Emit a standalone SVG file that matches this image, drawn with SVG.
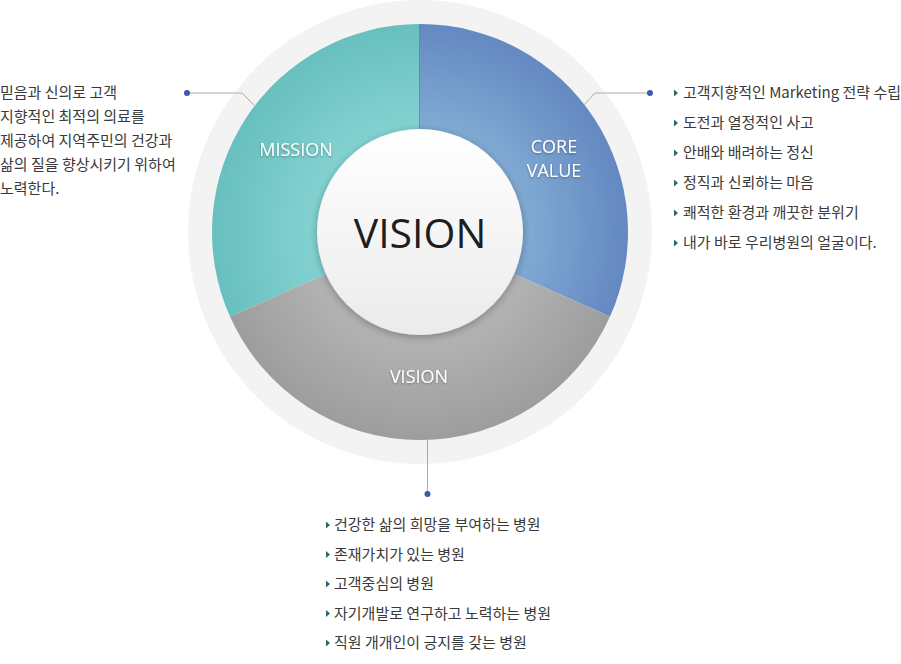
<svg xmlns="http://www.w3.org/2000/svg" width="901" height="664" viewBox="0 0 901 664">
<style>
.t{font-family:"Noto Sans CJK KR","Noto Sans",sans-serif;font-size:15px;fill:#3a3a3a}
.seg{font-family:"Open Sans","Noto Sans",sans-serif;font-size:18px;fill:#fff;text-anchor:middle;filter:url(#ts)}
.conn{fill:none;stroke:#aaaaaa;stroke-width:1}
.dot{fill:#3a5ca6}
.bul{fill:#2b6b6e}
</style>
<defs>
<radialGradient id="gM" cx="420" cy="232" r="208" gradientUnits="userSpaceOnUse">
<stop offset="0.3" stop-color="#8fd9d9"/><stop offset="1" stop-color="#68c0be"/>
</radialGradient>
<radialGradient id="gC" cx="420" cy="232" r="208" gradientUnits="userSpaceOnUse">
<stop offset="0.3" stop-color="#8cb9db"/><stop offset="1" stop-color="#6488c1"/>
</radialGradient>
<radialGradient id="gV" cx="420" cy="232" r="208" gradientUnits="userSpaceOnUse">
<stop offset="0.3" stop-color="#bdbdbd"/><stop offset="1" stop-color="#9d9d9d"/>
</radialGradient>
<linearGradient id="gW" x1="0" y1="0" x2="0" y2="1">
<stop offset="0" stop-color="#ffffff"/><stop offset="1" stop-color="#ebebeb"/>
</linearGradient>
<filter id="sh" x="-20%" y="-20%" width="140%" height="140%">
<feDropShadow dx="0" dy="2" stdDeviation="4" flood-color="#000" flood-opacity="0.3"/>
</filter>
<filter id="ts" x="-10%" y="-20%" width="120%" height="150%">
<feDropShadow dx="0" dy="1" stdDeviation="1" flood-color="#000" flood-opacity="0.35"/>
</filter>
</defs>

<circle cx="420" cy="232" r="232" fill="#f3f3f3"/>

<g id="mission">
<path d="M420,232 L420,24 A208,208 0 0 0 230,316.6 Z" fill="url(#gM)"/>
<text class="seg" x="296" y="156">MISSION</text>
</g>
<g id="core-value">
<path d="M420,232 L420,24 A208,208 0 0 1 610,316.6 Z" fill="url(#gC)"/>
<text class="seg" x="554" y="153">CORE</text>
<text class="seg" x="554" y="177">VALUE</text>
</g>
<g id="vision-seg">
<path d="M420,232 L610,316.6 A208,208 0 0 1 230,316.6 Z" fill="url(#gV)"/>
<text class="seg" x="419" y="383">VISION</text>
</g>
<line x1="419.5" y1="24" x2="419.5" y2="140" stroke="#4f7f95" stroke-width="1" opacity="0.7"/>

<g id="center">
<circle cx="420" cy="232" r="103" fill="url(#gW)" filter="url(#sh)"/>
<text x="420" y="248" text-anchor="middle" style="font-family:'Open Sans','Noto Sans',sans-serif;font-size:41px;fill:#1e1e1e">VISION</text>
</g>

<g id="connectors">
<polyline class="conn" points="187,93 242,93 254,105"/>
<polyline class="conn" points="584,105 595,93 650,93"/>
<line class="conn" x1="427.5" y1="440" x2="427.5" y2="492"/>
<circle class="dot" cx="187" cy="93" r="3"/>
<circle class="dot" cx="650" cy="93" r="3"/>
<circle class="dot" cx="427.5" cy="494" r="3"/>
</g>

<g id="mission-text">
<text class="t" x="0" y="98">믿음과 신의로 고객</text>
<text class="t" x="0" y="122">지향적인 최적의 의료를</text>
<text class="t" x="0" y="146">제공하여 지역주민의 건강과</text>
<text class="t" x="0" y="170">삶의 질을 향상시키기 위하여</text>
<text class="t" x="0" y="194">노력한다.</text>
</g>

<g id="core-list">
<path class="bul" d="M674,89.5 L678,93 L674,96.5 Z"/>
<path class="bul" d="M674,119.5 L678,123 L674,126.5 Z"/>
<path class="bul" d="M674,149.5 L678,153 L674,156.5 Z"/>
<path class="bul" d="M674,179.5 L678,183 L674,186.5 Z"/>
<path class="bul" d="M674,209.5 L678,213 L674,216.5 Z"/>
<path class="bul" d="M674,239.5 L678,243 L674,246.5 Z"/>
<text class="t" x="683" y="98">고객지향적인 Marketing 전략 수립</text>
<text class="t" x="683" y="128">도전과 열정적인 사고</text>
<text class="t" x="683" y="158">안배와 배려하는 정신</text>
<text class="t" x="683" y="188">정직과 신뢰하는 마음</text>
<text class="t" x="683" y="218">쾌적한 환경과 깨끗한 분위기</text>
<text class="t" x="683" y="248">내가 바로 우리병원의 얼굴이다.</text>
</g>

<g id="vision-list">
<path class="bul" d="M326,521.5 L330,525 L326,528.5 Z"/>
<path class="bul" d="M326,551 L330,554.5 L326,558 Z"/>
<path class="bul" d="M326,580.5 L330,584 L326,587.5 Z"/>
<path class="bul" d="M326,610 L330,613.5 L326,617 Z"/>
<path class="bul" d="M326,639.5 L330,643 L326,646.5 Z"/>
<text class="t" x="334" y="530">건강한 삶의 희망을 부여하는 병원</text>
<text class="t" x="334" y="559.5">존재가치가 있는 병원</text>
<text class="t" x="334" y="589">고객중심의 병원</text>
<text class="t" x="334" y="618.5">자기개발로 연구하고 노력하는 병원</text>
<text class="t" x="334" y="648">직원 개개인이 긍지를 갖는 병원</text>
</g>
</svg>
